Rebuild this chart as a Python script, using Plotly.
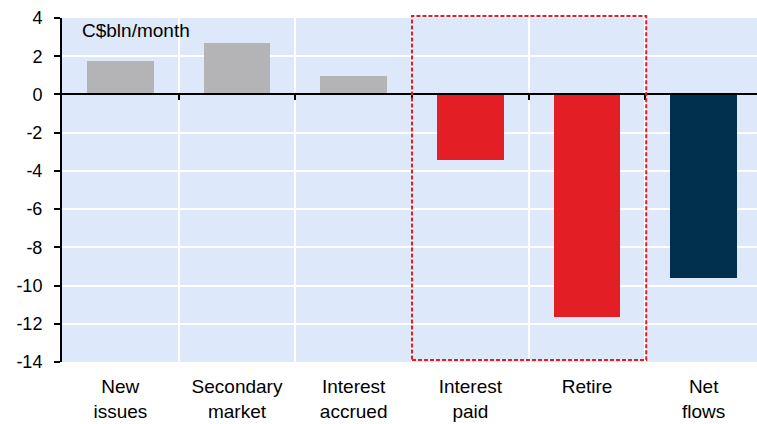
import plotly.graph_objects as go

categories = ["New<br>issues", "Secondary<br>market", "Interest<br>accrued",
              "Interest<br>paid", "Retire", "Net<br>flows"]
values = [1.73, 2.7, 0.95, -3.42, -11.65, -9.63]
bar_colors = ["#b4b4b7", "#b4b4b7", "#b4b4b7", "#e31e24", "#e31e24", "#00304d"]
y_ticks = [4, 2, 0, -2, -4, -6, -8, -10, -12, -14]
y_labels = [str(v) for v in y_ticks]  # plain hyphen, not unicode minus

FONT = "Liberation Sans, Arial, sans-serif"
x_pos = list(range(len(categories)))
boundaries = [i + 0.5 for i in range(len(categories) - 1)]

fig = go.Figure()
fig.add_trace(go.Bar(
    x=x_pos, y=values, marker=dict(color=bar_colors, line=dict(width=0)),
    width=0.57, showlegend=False,
))
# invisible trace on the boundary axis so it is drawn
fig.add_trace(go.Scatter(x=[-0.5, 5.5], y=[0, 0], xaxis="x2", mode="lines",
                         line=dict(width=0), hoverinfo="skip", showlegend=False))

# plot area runs a few px past the right edge of the window, like the original
fig.update_layout(
    width=762, height=424,
    margin=dict(l=62, r=0, t=18, b=62),
    paper_bgcolor="white", plot_bgcolor="#dde9fb",
    font=dict(family=FONT, size=18, color="black"),
    xaxis=dict(
        range=[-0.5, 5.5], tickvals=x_pos, ticktext=categories,
        tickfont=dict(size=19), automargin=False,
        showgrid=False, zeroline=False, showline=False, ticks="",
        ticklabelstandoff=11, fixedrange=True,
    ),
    xaxis2=dict(
        overlaying="x", anchor="free", position=14 / 18,
        range=[-0.5, 5.5], tickvals=boundaries, showticklabels=False,
        ticks="outside", ticklen=5, tickwidth=2, tickcolor="black",
        showline=True, linecolor="black", linewidth=2,
        showgrid=True, gridcolor="white", gridwidth=2, zeroline=False,
    ),
    yaxis=dict(
        range=[-14, 4], tickvals=y_ticks, ticktext=y_labels, ticks="outside",
        ticklen=6, tickwidth=2, tickcolor="black", showline=True,
        linecolor="black", linewidth=2, showgrid=True, gridcolor="white",
        gridwidth=2, zeroline=False, ticklabelstandoff=8, automargin=False,
    ),
    bargap=0,
)

# dashed box around the outflows (paper coords so it is not clipped)
fig.add_shape(type="rect", xref="paper", yref="paper",
              x0=0.50, x1=0.8346, y0=0.006, y1=1.006,
              line=dict(color="#e31e24", width=2, dash="4px,2px"), layer="above")

fig.add_annotation(text="C$bln/month", xref="paper", yref="paper", x=0.026, y=1.0,
                   xanchor="left", yanchor="top", showarrow=False,
                   font=dict(family=FONT, size=19, color="black"))

fig.write_html(
    "out.html",
    config={"displayModeBar": False},
    post_script="document.body.style.margin='0';document.body.style.overflow='hidden';",
)
